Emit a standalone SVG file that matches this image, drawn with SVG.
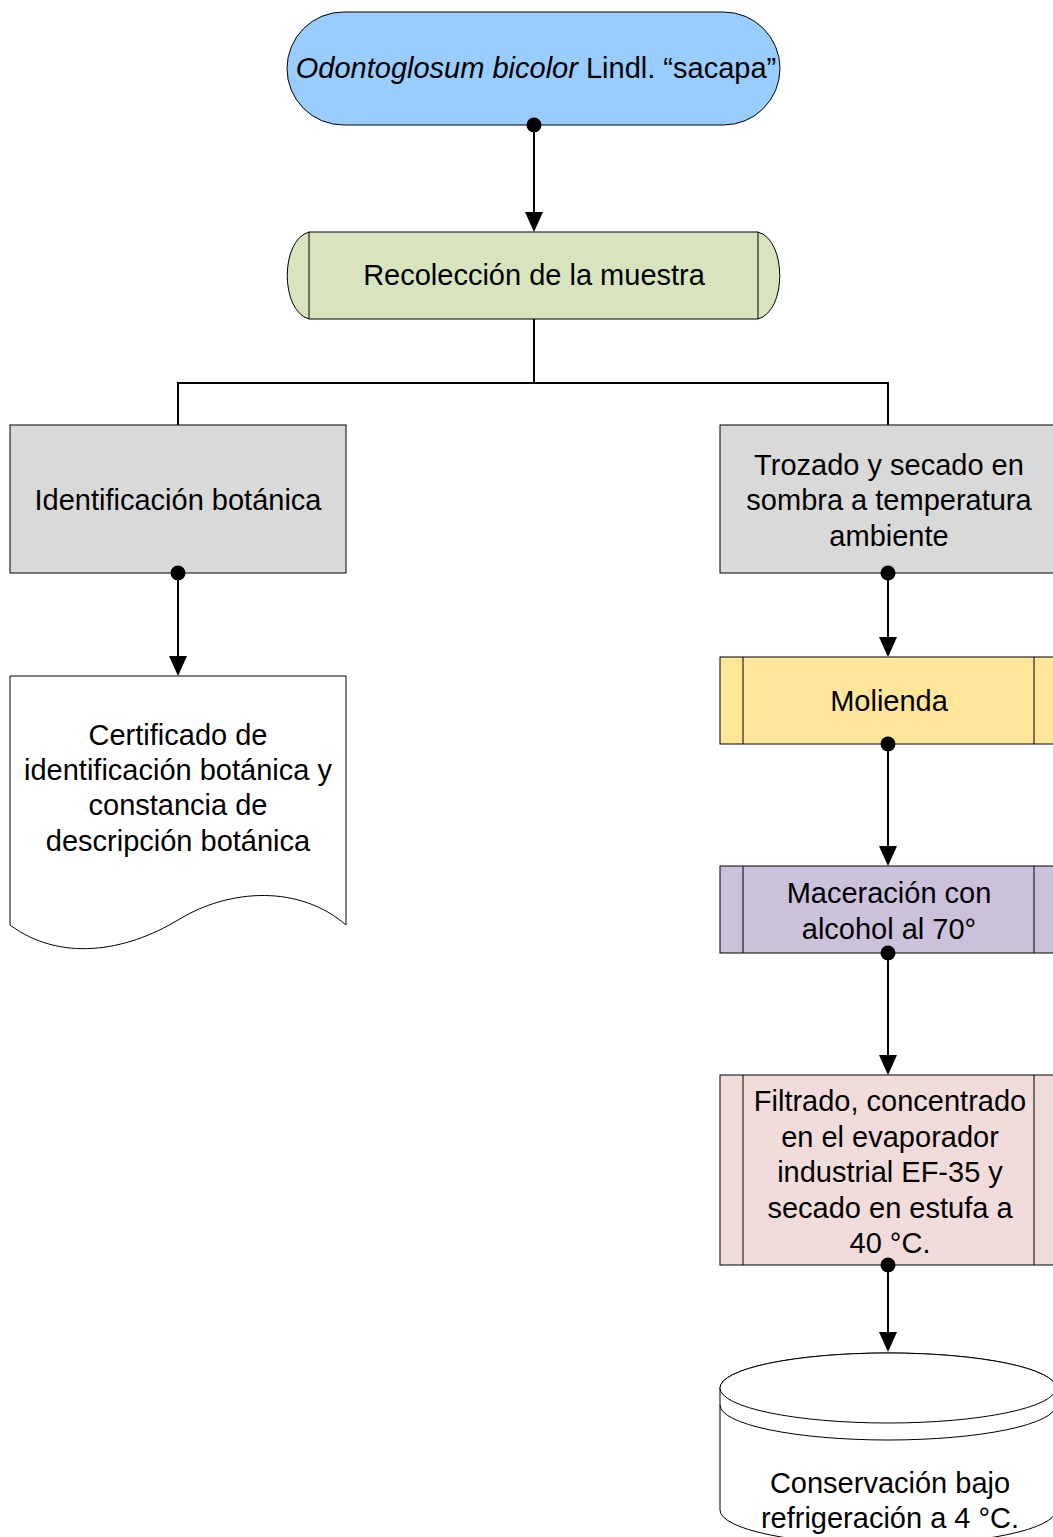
<svg xmlns="http://www.w3.org/2000/svg" width="1053" height="1537" viewBox="0 0 1053 1537">
<style>
.s{stroke:#000;stroke-width:1;}
.t{font-family:"Liberation Sans",Arial,sans-serif;font-size:29px;fill:#000;text-anchor:middle;}
.c{fill:none;stroke:#000;stroke-width:2;}
.h{fill:#000;}
</style>
<rect width="1053" height="1537" fill="#fff"/>
<g id="n-odontoglosum">
<rect class="s" x="287" y="12" width="493" height="113" rx="56.5" ry="56.5" fill="#99ccff"/>
<text class="t" x="536" y="78"><tspan font-style="italic">Odontoglosum bicolor</tspan> Lindl. “sacapa”</text>
</g>
<g id="n-recoleccion">
<path class="s" d="M309,232 L758,232 C787,240 787,311 758,319 L309,319 C280,311 280,240 309,232 Z" fill="#d7e4bd"/>
<line class="s" x1="309" y1="232" x2="309" y2="319"/>
<line class="s" x1="758" y1="232" x2="758" y2="319"/>
<text class="t" x="534" y="285">Recolección de la muestra</text>
</g>
<g id="n-identificacion">
<rect class="s" x="10" y="425" width="336" height="148" fill="#d9d9d9"/>
<text class="t" x="178" y="510">Identificación botánica</text>
</g>
<g id="n-trozado">
<rect class="s" x="720" y="425" width="336" height="148" fill="#d9d9d9"/>
<text class="t" x="889" y="475">Trozado y secado en</text>
<text class="t" x="889" y="510">sombra a temperatura</text>
<text class="t" x="889" y="546">ambiente</text>
</g>
<g id="n-certificado">
<path class="s" d="M10,676 L346,676 L346,925 C300,885 230,888 178,920 C125,952 60,962 10,925 Z" fill="#fff"/>
<text class="t" x="178" y="745">Certificado de</text>
<text class="t" x="178" y="780">identificación botánica y</text>
<text class="t" x="178" y="815">constancia de</text>
<text class="t" x="178" y="851">descripción botánica</text>
</g>
<g id="n-molienda">
<rect class="s" x="720" y="657" width="336" height="87" fill="#ffe699"/>
<line class="s" x1="743" y1="657" x2="743" y2="744"/>
<line class="s" x1="1034" y1="657" x2="1034" y2="744"/>
<text class="t" x="889" y="711">Molienda</text>
</g>
<g id="n-maceracion">
<rect class="s" x="720" y="866" width="336" height="87" fill="#ccc1da"/>
<line class="s" x1="743" y1="866" x2="743" y2="953"/>
<line class="s" x1="1034" y1="866" x2="1034" y2="953"/>
<text class="t" x="889" y="903">Maceración con</text>
<text class="t" x="889" y="939">alcohol al 70°</text>
</g>
<g id="n-filtrado">
<rect class="s" x="720" y="1075" width="336" height="190" fill="#f2dcdb"/>
<line class="s" x1="743" y1="1075" x2="743" y2="1265"/>
<line class="s" x1="1034" y1="1075" x2="1034" y2="1265"/>
<text class="t" x="890" y="1111">Filtrado, concentrado</text>
<text class="t" x="890" y="1147">en el evaporador</text>
<text class="t" x="890" y="1182">industrial EF-35 y</text>
<text class="t" x="890" y="1218">secado en estufa a</text>
<text class="t" x="890" y="1253">40 °C.</text>
</g>
<g id="n-conservacion">
<path class="s" d="M720,1388 L720,1510 A168,35 0 0 0 1056,1510 L1056,1388 A168,35 0 0 0 720,1388 Z" fill="#fff"/>
<ellipse class="s" cx="888" cy="1388" rx="168" ry="35" fill="#fff"/>
<path class="s" d="M720,1405 A168,35 0 0 0 1056,1405" fill="none"/>
<text class="t" x="890" y="1493">Conservación bajo</text>
<text class="t" x="890" y="1528">refrigeración a 4 °C.</text>
</g>
<g id="connectors">
<line class="c" x1="534" y1="125" x2="534" y2="212"/>
<path class="h" d="M525,212 L543,212 L534,232 Z"/>
<circle class="h" cx="534" cy="125" r="7.5"/>
<polyline class="c" points="534,319 534,383 178,383 178,425"/>
<polyline class="c" points="534,383 888,383 888,425"/>
<line class="c" x1="178" y1="573" x2="178" y2="656"/>
<path class="h" d="M169,656 L187,656 L178,676 Z"/>
<circle class="h" cx="178" cy="573" r="7.5"/>
<line class="c" x1="888" y1="573" x2="888" y2="637"/>
<path class="h" d="M879,637 L897,637 L888,657 Z"/>
<circle class="h" cx="888" cy="573" r="7.5"/>
<line class="c" x1="888" y1="744" x2="888" y2="846"/>
<path class="h" d="M879,846 L897,846 L888,866 Z"/>
<circle class="h" cx="888" cy="744" r="7.5"/>
<line class="c" x1="888" y1="953" x2="888" y2="1055"/>
<path class="h" d="M879,1055 L897,1055 L888,1075 Z"/>
<circle class="h" cx="888" cy="953" r="7.5"/>
<line class="c" x1="888" y1="1265" x2="888" y2="1332"/>
<path class="h" d="M879,1332 L897,1332 L888,1352 Z"/>
<circle class="h" cx="888" cy="1265" r="7.5"/>
</g>
</svg>
